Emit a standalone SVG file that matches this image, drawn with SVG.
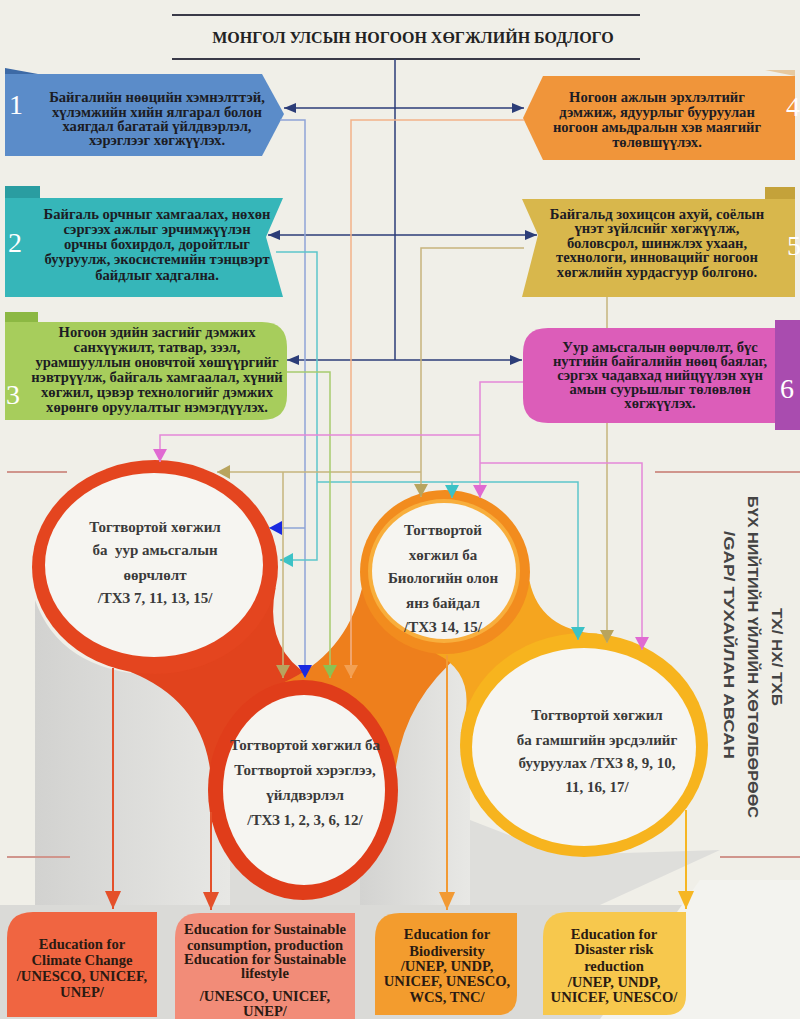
<svg xmlns="http://www.w3.org/2000/svg" width="800" height="1019" viewBox="0 0 800 1019">
<style>
.bt{font-family:"Liberation Serif","Times New Roman",serif;font-weight:bold;font-size:14.6px;fill:#1c1c24;text-anchor:middle}
.ct{font-family:"Liberation Serif","Times New Roman",serif;font-weight:bold;font-size:15px;fill:#3a3a3a;text-anchor:middle}
.et{font-family:"Liberation Serif","Times New Roman",serif;font-weight:bold;font-size:14.6px;fill:#2a1a12;text-anchor:middle}
.num{font-family:"Liberation Serif","Times New Roman",serif;font-size:28px;fill:#ffffff}
.vt{font-family:"Liberation Sans",Arial,sans-serif;font-weight:bold;font-size:14px;fill:#444;text-anchor:middle}
.nav{fill:none;stroke:#2c3d78;stroke-width:1.5}
.ln{fill:none;stroke-width:1.5}
.big{fill:none;stroke-width:2}
.div{stroke:#d0958c;stroke-width:2}
</style>
<defs>
<marker id="mNav" markerWidth="12" markerHeight="10" refX="12" refY="5" orient="auto" markerUnits="userSpaceOnUse"><path d="M0,0 L12,5 L0,10 z" fill="#2c3d78"/></marker>
<marker id="mBlue" markerWidth="14" markerHeight="14" refX="13" refY="7" orient="auto" markerUnits="userSpaceOnUse"><path d="M0,0 L13,7 L0,14 z" fill="#1a2ae0"/></marker>
<marker id="mTeal" markerWidth="14" markerHeight="14" refX="13" refY="7" orient="auto" markerUnits="userSpaceOnUse"><path d="M0,0 L13,7 L0,14 z" fill="#3cc2c6"/></marker>
<marker id="mTan" markerWidth="14" markerHeight="14" refX="13" refY="7" orient="auto" markerUnits="userSpaceOnUse"><path d="M0,0 L13,7 L0,14 z" fill="#b8a45e"/></marker>
<marker id="mGreen" markerWidth="14" markerHeight="14" refX="13" refY="7" orient="auto" markerUnits="userSpaceOnUse"><path d="M0,0 L13,7 L0,14 z" fill="#8cc152"/></marker>
<marker id="mOr" markerWidth="14" markerHeight="14" refX="13" refY="7" orient="auto" markerUnits="userSpaceOnUse"><path d="M0,0 L13,7 L0,14 z" fill="#f3a052"/></marker>
<marker id="mPink" markerWidth="14" markerHeight="14" refX="13" refY="7" orient="auto" markerUnits="userSpaceOnUse"><path d="M0,0 L13,7 L0,14 z" fill="#e06ad2"/></marker>
<marker id="mRed" markerWidth="18" markerHeight="16" refX="18" refY="8" orient="auto" markerUnits="userSpaceOnUse"><path d="M0,0 L18,8 L0,16 z" fill="#e4502a"/></marker>
<marker id="mOrB" markerWidth="18" markerHeight="16" refX="18" refY="8" orient="auto" markerUnits="userSpaceOnUse"><path d="M0,0 L18,8 L0,16 z" fill="#f29a34"/></marker>
<marker id="mYel" markerWidth="18" markerHeight="16" refX="18" refY="8" orient="auto" markerUnits="userSpaceOnUse"><path d="M0,0 L18,8 L0,16 z" fill="#f6b623"/></marker>
<linearGradient id="sh" x1="0" y1="0" x2="1" y2="0"><stop offset="0" stop-color="#d2d2d0"/><stop offset="1" stop-color="#e8e8e5"/></linearGradient>
</defs>

<rect x="0" y="0" width="800" height="1019" fill="#f0efe8"/>

<!-- shadows -->
<g id="shadows">
<path d="M35,600 Q60,670 150,675 L235,675 L235,905 L35,905 Z" fill="url(#sh)"/>
<rect x="355" y="640" width="115" height="265" fill="url(#sh)"/>
<rect x="230" y="860" width="130" height="45" fill="#dcdcd9"/>
<polygon points="470,820 560,855 720,850 600,905 470,905" fill="#dededb"/>
<polygon points="0,905 800,905 800,1019 0,1019" fill="#dadad7"/>
<polygon points="700,880 800,880 800,1019 600,1019" fill="#f3f3ef"/>
</g>

<!-- dividers -->
<line class="div" x1="7" y1="472" x2="67" y2="472"/>
<line class="div" x1="655" y1="472" x2="800" y2="472"/>
<line class="div" x1="7" y1="857" x2="70" y2="857"/>
<line class="div" x1="720" y1="857" x2="800" y2="857"/>

<!-- title -->
<g id="title">
<line x1="172" y1="15" x2="640" y2="15" stroke="#3a3a48" stroke-width="2"/>
<line x1="172" y1="59" x2="640" y2="59" stroke="#3a3a48" stroke-width="2"/>
<text x="413" y="43" font-family="Liberation Serif, serif" font-weight="bold" font-size="16" fill="#222" text-anchor="middle">МОНГОЛ УЛСЫН НОГООН ХӨГЖЛИЙН БОДЛОГО</text>
</g>

<!-- top boxes -->
<g id="box1">
<polygon points="5,74 262,74 284,114 262,156 5,156" fill="#5b8cc9"/>
<polygon points="5,68 38,74 5,74" fill="#3d6aa6"/>
<text class="num" x="16" y="114" text-anchor="middle">1</text>
<text class="bt" x="157" y="102">Байгалийн нөөцийн хэмнэлттэй,</text>
<text class="bt" x="157" y="117">хүлэмжийн хийн ялгарал болон</text>
<text class="bt" x="157" y="131">хаягдал багатай үйлдвэрлэл,</text>
<text class="bt" x="157" y="145">хэрэглээг хөгжүүлэх.</text>
</g>
<g id="box4">
<polygon points="543,76 795,76 795,160 543,160 523,118" fill="#f0953a"/>
<polygon points="765,70 795,70 795,76" fill="#e6c9a0"/>
<text class="num" x="786" y="116">4</text>
<text class="bt" x="657" y="102">Ногоон ажлын эрхлэлтийг</text>
<text class="bt" x="657" y="117">дэмжиж, ядуурлыг бууруулан</text>
<text class="bt" x="657" y="132">ногоон амьдралын хэв маягийг</text>
<text class="bt" x="657" y="147">төлөвшүүлэх.</text>
</g>
<g id="box2">
<polygon points="5,198 283,198 266,237 283,297 5,297" fill="#36b6b9"/>
<polygon points="5,186 40,186 40,198 5,198" fill="#2a9da1"/>
<text class="num" x="15" y="252" text-anchor="middle">2</text>
<text class="bt" x="157" y="219">Байгаль орчныг хамгаалах, нөхөн</text>
<text class="bt" x="157" y="234">сэргээх ажлыг эрчимжүүлэн</text>
<text class="bt" x="157" y="249">орчны бохирдол, доройтлыг</text>
<text class="bt" x="157" y="264">бууруулж, экосистемийн тэнцвэрт</text>
<text class="bt" x="157" y="280">байдлыг хадгална.</text>
</g>
<g id="box5">
<polygon points="522,199 795,199 795,297 522,297 538,235" fill="#d8b74c"/>
<polygon points="765,187 795,187 795,199 765,199" fill="#c4a23a"/>
<text class="num" x="787" y="255">5</text>
<text class="bt" x="657" y="219">Байгальд зохицсон ахуй, соёлын</text>
<text class="bt" x="657" y="233">үнэт зүйлсийг хөгжүүлж,</text>
<text class="bt" x="657" y="248">боловсрол, шинжлэх ухаан,</text>
<text class="bt" x="657" y="262">технологи, инновацийг ногоон</text>
<text class="bt" x="657" y="277">хөгжлийн хурдасгуур болгоно.</text>
</g>
<g id="box3">
<path d="M5,322 H262 Q287,322 287,347 V395 Q287,420 262,420 H5 Z" fill="#a7cd5c"/>
<polygon points="5,312 38,312 38,322 5,322" fill="#8cb843"/>
<text class="num" x="13" y="404" text-anchor="middle">3</text>
<text class="bt" x="157" y="337">Ногоон эдийн засгийг дэмжих</text>
<text class="bt" x="157" y="352">санхүүжилт, татвар, зээл,</text>
<text class="bt" x="157" y="367">урамшууллын оновчтой хөшүүргийг</text>
<text class="bt" x="157" y="382">нэвтрүүлж, байгаль хамгаалал, хүний</text>
<text class="bt" x="157" y="397">хөгжил, цэвэр технологийг дэмжих</text>
<text class="bt" x="157" y="412">хөрөнгө оруулалтыг нэмэгдүүлэх.</text>
</g>
<g id="box6">
<path d="M548,328 H780 V423 H548 Q523,423 523,398 V353 Q523,328 548,328 Z" fill="#dc5db9"/>
<rect x="775" y="320" width="25" height="110" fill="#a94caf"/>
<text class="num" x="780" y="398">6</text>
<text class="bt" x="660" y="352">Уур амьсгалын өөрчлөлт, бүс</text>
<text class="bt" x="660" y="366">нутгийн байгалийн нөөц баялаг,</text>
<text class="bt" x="660" y="380">сэргэх чадавхад нийцүүлэн хүн</text>
<text class="bt" x="660" y="394">амын суурьшлыг төлөвлөн</text>
<text class="bt" x="660" y="408">хөгжүүлэх.</text>
</g>

<!-- circles -->
<g id="circles-base">
<path d="M275.6,588 Q262,655 321.8,682.2 L209.9,768.3 Q200,700 130.7,672 Z" fill="#e1431d"/>
<path d="M283.4,682.4 Q345,655 361.8,588.9 L462.5,652.2 Q405,700 396,767.3 Z" fill="#ee7f1c"/>
<path d="M529.5,580.9 Q540,630 597.4,633.7 L460.7,732.9 Q480,675 435.8,653.5 Z" fill="#f5a51f"/>
</g>
<g id="c-climate">
<ellipse cx="155" cy="567" rx="123" ry="107" fill="#e4451f"/>
<ellipse cx="154" cy="565" rx="109" ry="92" fill="#f6f5f1"/>
<text class="ct" x="155" y="532">Тогтвортой хөгжил</text>
<text class="ct" x="155" y="555" xml:space="preserve">ба  уур амьсгалын</text>
<text class="ct" x="155" y="580">өөрчлөлт</text>
<text class="ct" x="155" y="603">/ТХЗ 7, 11, 13, 15/</text>
</g>
<g id="c-consumption">
<ellipse cx="303" cy="790" rx="95" ry="110" fill="#e03d1a"/>
<ellipse cx="304" cy="790" rx="81" ry="95" fill="#f6f5f1"/>
<text class="ct" x="305" y="750">Тогтвортой хөгжил ба</text>
<text class="ct" x="305" y="775">Тогтвортой хэрэглээ,</text>
<text class="ct" x="305" y="800">үйлдвэрлэл</text>
<text class="ct" x="305" y="825">/ТХЗ 1, 2, 3, 6, 12/</text>
</g>
<g id="c-biodiversity">
<ellipse cx="445" cy="572" rx="85" ry="82" fill="#f28c1e"/>
<ellipse cx="444" cy="571" rx="76" ry="72" fill="#f8ae3c"/>
<ellipse cx="444" cy="571" rx="72" ry="68" fill="#f6f5f1"/>
<text class="ct" x="443" y="535">Тогтвортой</text>
<text class="ct" x="443" y="560">хөгжил ба</text>
<text class="ct" x="443" y="583">Биологийн олон</text>
<text class="ct" x="443" y="608">янз байдал</text>
<text class="ct" x="443" y="632">/ТХЗ 14, 15/</text>
</g>
<g id="c-disaster">
<ellipse cx="584" cy="745" rx="124" ry="112" fill="#f7b41e"/>
<ellipse cx="584" cy="747" rx="112" ry="99" fill="#f6f5f1"/>
<text class="ct" x="597" y="720">Тогтвортой хөгжил</text>
<text class="ct" x="597" y="745">ба гамшгийн эрсдэлийг</text>
<text class="ct" x="597" y="768">бууруулах /ТХЗ 8, 9, 10,</text>
<text class="ct" x="597" y="792">11, 16, 17/</text>
</g>

<!-- bottom boxes -->
<g id="e-climate">
<path d="M7,1017 V938 Q7,912 33,912 H157 V1017 Z" fill="#f06541"/>
<text class="et" x="82" y="949">Education for</text>
<text class="et" x="82" y="965">Climate Change</text>
<text class="et" x="82" y="981">/UNESCO, UNICEF,</text>
<text class="et" x="82" y="997">UNEP/</text>
</g>
<g id="e-consumption">
<path d="M175,1019 V938 Q175,913 200,913 H355 V1019 Z" fill="#f28c78"/>
<text class="et" x="265" y="934">Education for Sustainable</text>
<text class="et" x="265" y="950">consumption, production</text>
<text class="et" x="265" y="964">Education for Sustainable</text>
<text class="et" x="265" y="978">lifestyle</text>
<text class="et" x="265" y="1001">/UNESCO, UNICEF,</text>
<text class="et" x="265" y="1016">UNEP/</text>
</g>
<g id="e-biodiversity">
<path d="M375,1015 V938 Q375,913 400,913 H517 V995 Q517,1015 497,1015 Z" fill="#f39c2e"/>
<text class="et" x="447" y="939">Education for</text>
<text class="et" x="447" y="956">Biodiversity</text>
<text class="et" x="447" y="971">/UNEP, UNDP,</text>
<text class="et" x="447" y="986">UNICEF, UNESCO,</text>
<text class="et" x="447" y="1002">WCS, TNC/</text>
</g>
<g id="e-disaster">
<path d="M543,1015 V937 Q543,912 568,912 H686 V995 Q686,1015 666,1015 Z" fill="#f7c84d"/>
<text class="et" x="614" y="939">Education for</text>
<text class="et" x="614" y="954">Disaster risk</text>
<text class="et" x="614" y="971">reduction</text>
<text class="et" x="614" y="987">/UNEP, UNDP,</text>
<text class="et" x="614" y="1002">UNICEF, UNESCO/</text>
</g>

<!-- vertical note -->
<g id="note">
<text class="vt" transform="translate(772,657) rotate(90)" textLength="98" lengthAdjust="spacingAndGlyphs">ТХ/ НХ/ ТХБ</text>
<text class="vt" transform="translate(748,657) rotate(90)" textLength="322" lengthAdjust="spacingAndGlyphs">БҮХ НИЙТИЙН ҮЙЛИЙН ХӨТӨЛБӨРӨӨС</text>
<text class="vt" transform="translate(724,645) rotate(90)" textLength="228" lengthAdjust="spacingAndGlyphs">/GAP/ ТУХАЙЛАН АВСАН</text>
</g>

<!-- connectors -->
<g id="connectors">
<line class="nav" x1="395" y1="59" x2="395" y2="360"/>
<line class="nav" x1="395" y1="108" x2="284" y2="108" marker-end="url(#mNav)"/>
<line class="nav" x1="395" y1="108" x2="524" y2="108" marker-end="url(#mNav)"/>
<line class="nav" x1="395" y1="235" x2="268" y2="235" marker-end="url(#mNav)"/>
<line class="nav" x1="395" y1="235" x2="537" y2="235" marker-end="url(#mNav)"/>
<line class="nav" x1="395" y1="360" x2="287" y2="360" marker-end="url(#mNav)"/>
<line class="nav" x1="395" y1="360" x2="522" y2="360" marker-end="url(#mNav)"/>

<path class="ln" stroke="#8ea4d6" d="M280,120 H305 V678" marker-end="url(#mBlue)"/>
<path class="ln" stroke="#8ea4d6" d="M305,528 H269" marker-end="url(#mBlue)"/>

<path class="ln" stroke="#5cc6ca" d="M276,252 H317 V560 H280" marker-end="url(#mTeal)"/>
<path class="ln" stroke="#5cc6ca" d="M317,482 H578 V640" marker-end="url(#mTeal)"/>
<path class="ln" stroke="#5cc6ca" d="M452,482 V498" marker-end="url(#mTeal)"/>

<path class="ln" stroke="#c6b47c" d="M524,248 H421 V497" marker-end="url(#mTan)"/>
<path class="ln" stroke="#c6b47c" d="M421,472 H217" marker-end="url(#mTan)"/>
<path class="ln" stroke="#c6b47c" d="M283,472 V678" marker-end="url(#mTan)"/>
<path class="ln" stroke="#c6b47c" d="M607,297 V328"/>
<path class="ln" stroke="#c6b47c" d="M607,423 V643" marker-end="url(#mTan)"/>

<path class="ln" stroke="#a6cc6e" d="M287,372 H330 V678" marker-end="url(#mGreen)"/>
<path class="ln" stroke="#f2b288" d="M524,120 H351 V678" marker-end="url(#mOr)"/>

<path class="ln" stroke="#e488d8" d="M523,382 H480 V498" marker-end="url(#mPink)"/>
<path class="ln" stroke="#e488d8" d="M480,435 H160 V462" marker-end="url(#mPink)"/>
<path class="ln" stroke="#e488d8" d="M480,463 H642 V650" marker-end="url(#mPink)"/>

<path class="big" stroke="#e4502a" d="M113,668 V909" marker-end="url(#mRed)"/>
<path class="big" stroke="#e4502a" d="M211,812 V910" marker-end="url(#mRed)"/>
<path class="big" stroke="#f29a34" d="M447,655 V910" marker-end="url(#mOrB)"/>
<path class="big" stroke="#f6b623" d="M686,810 V909" marker-end="url(#mYel)"/>
</g>
</svg>
